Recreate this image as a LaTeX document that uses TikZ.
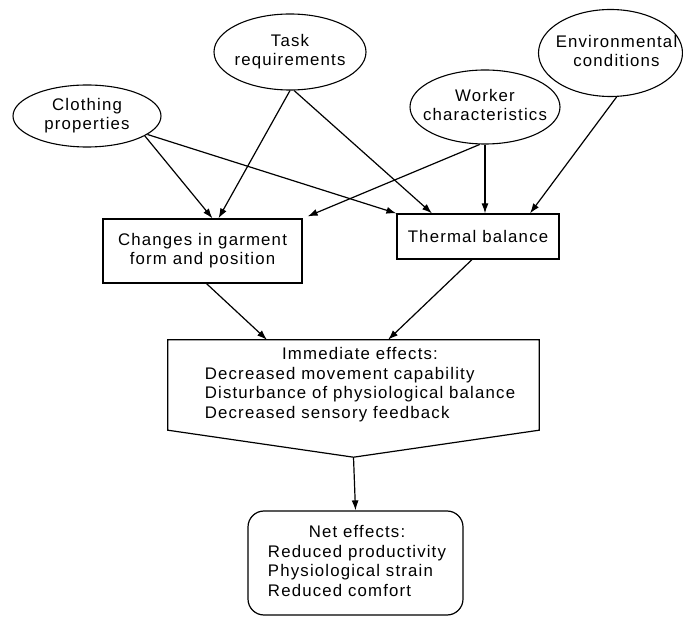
\documentclass[tikz,border=0pt]{standalone}
\usepackage{fontspec}
\setmainfont{Liberation Sans}[LetterSpace=7]
\usetikzlibrary{shapes.geometric,arrows.meta,calc}

% centred multi-line text that does not widen its node
\newcommand\dtext[1]{\makebox[0pt]{\begin{tabular}{@{}c@{}}#1\end{tabular}}}

\begin{document}
\begin{tikzpicture}[x=1pt,y=-1pt,
  every node/.style={font=\fontsize{16.8}{19.5}\selectfont, inner sep=0pt},
  oval/.style={draw, ellipse, line width=1.1pt},
  box/.style={draw, rectangle, line width=1.2pt},
  link/.style={line width=1.2pt, -{Latex[length=10pt,width=7pt]}},
]
\useasboundingbox (0,0) rectangle (683,617);

% influencing factors
\node[oval, minimum width=152, minimum height=76] (task) at (290,52) {\dtext{Task\\requirements}};
\node[oval, minimum width=148, minimum height=62] (clothing) at (87,116) {\dtext{Clothing\\properties}};
\node[oval, minimum width=150, minimum height=74] (worker) at (485,107) {\dtext{Worker\\characteristics}};
\node[oval, minimum width=144, minimum height=87] (env) at (610.5,53) {\dtext{\hspace*{12pt}Environmental\\\hspace*{12pt}conditions}};

% intermediate results
\node[box, minimum width=199, minimum height=64] (changes) at (202.5,251) {\dtext{Changes in garment\\form and position}};
\node[box, minimum width=162, minimum height=45] (thermal) at (478,236.5) {Thermal balance};

% immediate effects (pentagon-shaped block)
\node[minimum width=371, minimum height=90] (imm) at (353.5,385)
  {\hspace*{13pt}\raisebox{-4pt}{\begin{tabular}{@{}l@{}}\multicolumn{1}{@{}c@{}}{Immediate effects:}\\
   Decreased movement capability\\
   Disturbance of physiological balance\\
   Decreased sensory feedback\end{tabular}}};
\draw[line width=1.2pt] (imm.north west) -- (imm.north east) -- (imm.south east)
  -- ($(imm.south)+(0,27)$) -- (imm.south west) -- cycle;

% net effects
\node[box, rounded corners=16pt, minimum width=215, minimum height=104] (net) at (355.5,563)
  {\hspace*{3pt}\begin{tabular}{@{}l@{}}\multicolumn{1}{@{}c@{}}{Net effects:}\\
   Reduced productivity\\
   Physiological strain\\
   Reduced comfort\end{tabular}};

% connectors
\draw[link] (clothing.-19) -- ($(changes.north)+(10,0)$);
\draw[link] (task.south) -- ($(changes.north)+(16,0)$);
\draw[link] (clothing.-17) -- (thermal.north west);
\draw[link] (task.-84) -- ($(thermal.north)+(-46,0)$);
\draw[link] (worker.-98) -- ($(changes.north east)+(5,-2)$);
\draw[link] (worker.south) -- (worker.south |- thermal.north);
\draw[link] (env.-82) -- ($(thermal.north)+(52,0)$);
\draw[link] ($(changes.south)+(4,0)$) -- ($(imm.north west)!0.267!(imm.north east)$);
\draw[link] ($(thermal.south)+(-6,0)$) -- ($(imm.north west)!0.593!(imm.north east)$);
\draw[link] ($(imm.south)+(0,27)$) -- (net.north);
\end{tikzpicture}
\end{document}
